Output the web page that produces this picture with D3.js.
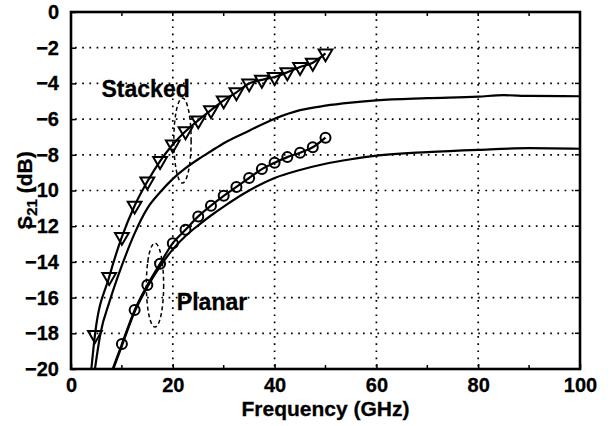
<!DOCTYPE html>
<html>
<head>
<meta charset="utf-8">
<script src="https://cdn.jsdelivr.net/npm/d3@7/dist/d3.min.js"></script>
<style>
  html, body { margin: 0; padding: 0; background: #fff; }
  svg { display: block; font-family: "Liberation Sans", Arial, Helvetica, sans-serif; font-weight: bold; }
</style>
</head>
<body>
<svg id="chart" width="611" height="426"></svg>
<script>
// Measured S21 of the stacked transformer (downward triangles), GHz / dB
const stackedFreq = [4.7, 7.5, 10, 12.5, 15, 17.5, 20, 22.5, 25, 27.5, 30, 32.5, 35, 37.5, 40, 42.5, 45, 47.5, 50];
const stackedDb   = [-18.1, -14.85, -12.6, -10.85, -9.5, -8.35, -7.42, -6.68, -6.07, -5.5, -4.95, -4.5, -4.0, -3.8, -3.64, -3.38, -3.08, -2.84, -2.32];
// Where the measured stacked trace leaves the bottom of the axes
const stackedLeadIn = [4.0, -20];

// Measured S21 of the planar transformer (circles)
const planarFreq = [10, 12.5, 15, 17.5, 20, 22.5, 25, 27.5, 30, 32.5, 35, 37.5, 40, 42.5, 45, 47.5, 50];
const planarDb   = [-18.6, -16.7, -15.3, -14.1, -12.95, -12.2, -11.45, -10.85, -10.3, -9.8, -9.3, -8.8, -8.45, -8.13, -7.88, -7.58, -7.04];
const planarLeadIn = [8.2, -20];

// Simulated S21 curves (solid lines)
const stackedModelFreq = [4.7, 5.8, 7.6, 10, 12.5, 15, 17.5, 20, 22.5, 25, 27.5, 30, 35, 40, 45, 50, 55, 60, 70, 80, 85, 90, 100];
const stackedModelDb   = [-20, -18.0, -16.2, -14.2, -12.4, -11.0, -10.1, -9.35, -8.75, -8.25, -7.8, -7.35, -6.65, -5.98, -5.5, -5.25, -5.08, -4.95, -4.83, -4.74, -4.66, -4.7, -4.72];
const planarModelFreq = [8.3, 10, 12.5, 15, 17.5, 20, 22.5, 25, 27.5, 30, 35, 40, 45, 50, 55, 60, 70, 80, 90, 100];
const planarModelDb   = [-20, -18.7, -16.8, -15.4, -14.25, -13.3, -12.55, -11.95, -11.4, -10.9, -10.0, -9.3, -8.85, -8.5, -8.25, -8.05, -7.85, -7.72, -7.63, -7.66];

// Dashed ellipses grouping each pair of traces: centre (GHz, dB), radii (GHz, dB)
const groupEllipses = [
  { name: "Stacked", cf: 21.9, cdb: -7.2, rf: 1.7, rdb: 2.38 },
  { name: "Planar",  cf: 16.5, cdb: -15.3, rf: 1.7, rdb: 2.35 }
];
// Trace annotations (anchor point in GHz, dB)
const annotations = [
  { text: "Stacked", f: 6.0, db: -4.75 },
  { text: "Planar",  f: 20.8, db: -16.7 }
];

const xTicks = [0, 20, 40, 60, 80, 100];
const xMinorTicks = [10, 30, 50, 70, 90];
const yTicks = [0, -2, -4, -6, -8, -10, -12, -14, -16, -18, -20];

const svg = d3.select("#chart");
const margin = { left: 71, right: 31, top: 12, bottom: 57 };
const W = 611, H = 426;
const x = d3.scaleLinear().domain([0, 100]).range([margin.left, W - margin.right]);
const y = d3.scaleLinear().domain([-20, 0]).range([H - margin.bottom, margin.top]);

svg.append("defs").append("clipPath").attr("id", "plotClip")
  .append("rect")
  .attr("x", x(0)).attr("y", y(0))
  .attr("width", x(100) - x(0)).attr("height", y(-20) - y(0));

// Dotted grid
const grid = svg.append("g").attr("stroke", "#000").attr("stroke-width", 1.7)
  .attr("stroke-dasharray", "1.7 5.5");
grid.selectAll("line.gx").data(xTicks.filter(t => t > 0 && t < 100)).join("line")
  .attr("x1", d => x(d)).attr("x2", d => x(d))
  .attr("y1", y(0)).attr("y2", y(-20));
grid.selectAll("line.gy").data(yTicks.filter(t => t < 0 && t > -20)).join("line")
  .attr("y1", d => y(d)).attr("y2", d => y(d))
  .attr("x1", x(0) + 4).attr("x2", x(100));

// Axes drawn with d3.axis, ticks pointing inward
const fontSize = 20;
const xAxis = d3.axisBottom(x).tickValues(xTicks).tickSizeInner(-5).tickSizeOuter(0).tickPadding(7);
const gx = svg.append("g").attr("transform", `translate(0,${y(-20)})`).call(xAxis);
const yAxis = d3.axisLeft(y).tickValues(yTicks).tickSizeInner(-5).tickSizeOuter(0).tickPadding(12);
const gy = svg.append("g").attr("transform", `translate(${x(0)},0)`).call(yAxis);
[gx, gy].forEach(g => {
  g.select(".domain").remove();
  g.selectAll(".tick line").attr("stroke", "#000").attr("stroke-width", 1.5);
  g.selectAll(".tick text").attr("fill", "#000").attr("font-size", fontSize)
    .attr("font-weight", "bold").attr("font-family", "Liberation Sans, Arial, sans-serif")
    .attr("stroke", "#000").attr("stroke-width", 0.3);
});
gx.selectAll(".tick text").attr("dy", "0.78em");

// Minor ticks on bottom and top edges, major ticks on top and right edges
const tk = svg.append("g").attr("stroke", "#000").attr("stroke-width", 1.5);
tk.selectAll("line.mb").data(xMinorTicks).join("line")
  .attr("x1", d => x(d)).attr("x2", d => x(d)).attr("y1", y(-20)).attr("y2", y(-20) - 4);
tk.selectAll("line.mt").data(xMinorTicks.concat(xTicks)).join("line")
  .attr("x1", d => x(d)).attr("x2", d => x(d)).attr("y1", y(0)).attr("y2", y(0) + 4);
tk.selectAll("line.rt").data(yTicks).join("line")
  .attr("y1", d => y(d)).attr("y2", d => y(d)).attr("x1", x(100)).attr("x2", x(100) - 5);

// Plot box
svg.append("rect")
  .attr("x", x(0)).attr("y", y(0))
  .attr("width", x(100) - x(0)).attr("height", y(-20) - y(0))
  .attr("fill", "none").attr("stroke", "#000").attr("stroke-width", 2.6);

const plot = svg.append("g").attr("clip-path", "url(#plotClip)");
const line = d3.line().x(d => x(d[0])).y(d => y(d[1])).curve(d3.curveMonotoneX);
const zip = (fs, vs) => fs.map((f, i) => [f, vs[i]]);

// Simulated curves
[zip(stackedModelFreq, stackedModelDb), zip(planarModelFreq, planarModelDb)].forEach(pts => {
  plot.append("path").datum(pts).attr("d", line)
    .attr("fill", "none").attr("stroke", "#000").attr("stroke-width", 2.2);
});

// Measured traces
const stackedPts = zip(stackedFreq, stackedDb);
const planarPts = zip(planarFreq, planarDb);
plot.append("path").datum([stackedLeadIn].concat(stackedPts)).attr("d", line)
  .attr("fill", "none").attr("stroke", "#000").attr("stroke-width", 2.2);
plot.append("path").datum([planarLeadIn].concat(planarPts)).attr("d", line)
  .attr("fill", "none").attr("stroke", "#000").attr("stroke-width", 2.2);

// Markers
const tri = d3.symbol(d3.symbolTriangle, 82);
plot.selectAll("path.tri").data(stackedPts).join("path")
  .attr("d", tri)
  .attr("transform", d => `translate(${x(d[0])},${y(d[1])}) rotate(180)`)
  .attr("fill", "none").attr("stroke", "#000").attr("stroke-width", 2);
plot.selectAll("circle.pl").data(planarPts).join("circle")
  .attr("cx", d => x(d[0])).attr("cy", d => y(d[1])).attr("r", 5)
  .attr("fill", "none").attr("stroke", "#000").attr("stroke-width", 2);

// Group ellipses
svg.selectAll("ellipse.grp").data(groupEllipses).join("ellipse")
  .attr("cx", d => x(d.cf)).attr("cy", d => y(d.cdb))
  .attr("rx", d => x(d.rf) - x(0)).attr("ry", d => y(-d.rdb) - y(0))
  .attr("fill", "none").attr("stroke", "#000").attr("stroke-width", 1.5)
  .attr("stroke-dasharray", "4 3");

// Annotations
svg.selectAll("text.ann").data(annotations).join("text")
  .attr("x", d => x(d.f)).attr("y", d => y(d.db))
  .attr("font-size", 23).attr("fill", "#000")
  .attr("stroke", "#000").attr("stroke-width", 0.3)
  .text(d => d.text);

// Axis titles
svg.append("text")
  .attr("x", (x(0) + x(100)) / 2).attr("y", 416)
  .attr("text-anchor", "middle").attr("font-size", 21).attr("fill", "#000")
  .attr("stroke", "#000").attr("stroke-width", 0.3)
  .text("Frequency (GHz)");

const yt = svg.append("text")
  .attr("transform", `translate(32,${(y(0) + y(-20)) / 2}) rotate(-90)`)
  .attr("text-anchor", "middle").attr("font-size", 21).attr("fill", "#000")
  .attr("stroke", "#000").attr("stroke-width", 0.3);
yt.append("tspan").text("S");
yt.append("tspan").attr("font-size", 15).attr("dy", 5).text("21");
yt.append("tspan").attr("dy", -5).text(" (dB)");
</script>
</body>
</html>
